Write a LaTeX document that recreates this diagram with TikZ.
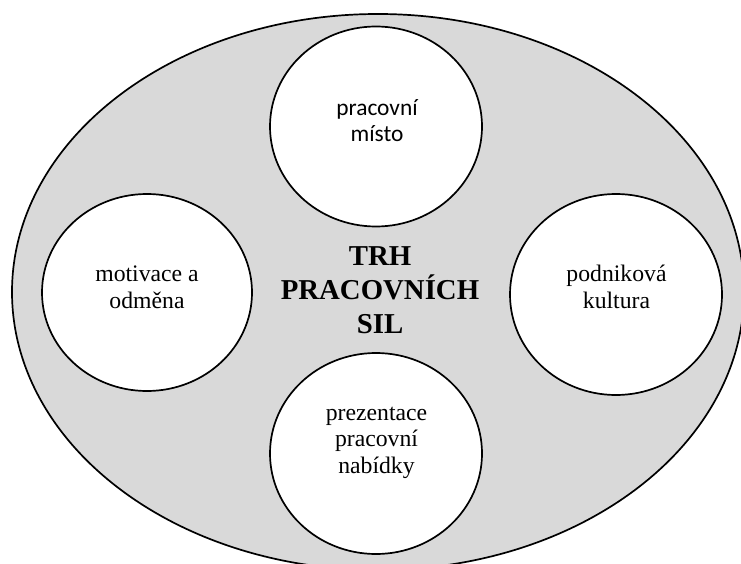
\documentclass[tikz,border=0pt]{standalone}
\usepackage{fontspec}
\setmainfont{Liberation Serif}
\newfontfamily\calibrilike{Carlito}
\usetikzlibrary{shapes.geometric}
% stacked lines whose reference point is the first baseline
\newcommand\stk[1]{\begin{tabular}[t]{@{}c@{}}#1\end{tabular}}
\begin{document}
\begin{tikzpicture}[x=1pt,y=-1pt,
  outer/.style={ellipse,draw=black,line width=1.7pt,fill=gray!30,inner sep=0pt},
  topic/.style={ellipse,draw=black,line width=1.7pt,fill=white,inner sep=0pt,
    minimum width=212pt,minimum height=200pt},
  lbl/.style={anchor=base,inner sep=0pt,font=\fontsize{23.7}{26.7}\selectfont},
  slbl/.style={anchor=base,inner sep=0pt,font=\calibrilike\fontsize{23.4}{26}\selectfont},
  title/.style={anchor=base,inner sep=0pt,font=\bfseries\fontsize{28.8}{34}\selectfont}]
\useasboundingbox (0,0) rectangle (741,564);
\clip (0,0) rectangle (741,564);
\fill[white] (0,0) rectangle (741,564);
% market ellipse
\node[outer,minimum width=732pt,minimum height=556pt] (market) at (378,292) {};
% four topic circles
\node[topic] (place) at (376,126.5) {};
\node[topic,minimum width=210pt,minimum height=197pt] (motiv) at (147,292.5) {};
\node[topic,minimum height=201pt] (culture) at (616,294.5) {};
\node[topic,minimum height=201pt] (offer) at (376,453.5) {};
% labels
\node[slbl] (tplace) at (377,116) {\stk{pracovní\\místo}};
\node[lbl,font=\fontsize{23.7}{27}\selectfont] (tmotiv) at (147,281) {\stk{motivace a\\odměna}};
\node[lbl,font=\fontsize{23.7}{27}\selectfont] (tculture) at (616.5,281) {\stk{podniková\\kultura}};
\node[lbl] (toffer) at (376.5,420) {\stk{prezentace\\pracovní\\nabídky}};
\node[title] (tmarket) at (380,265) {\stk{TRH\\PRACOVNÍCH\\SIL}};
\end{tikzpicture}
\end{document}
